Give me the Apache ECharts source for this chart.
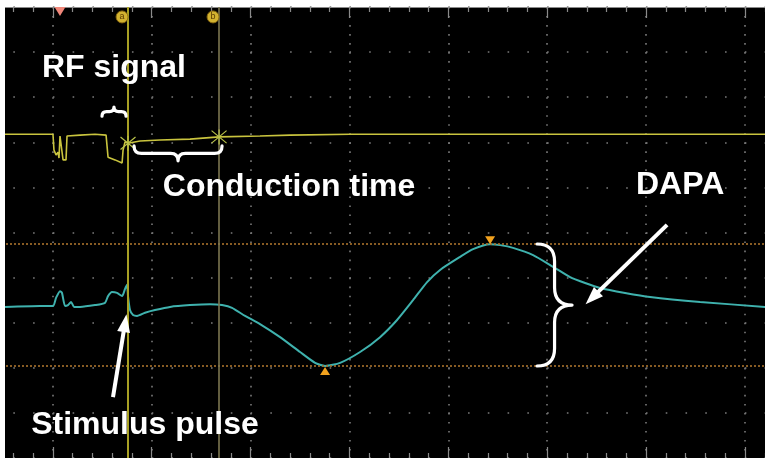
<!DOCTYPE html>
<html>
<head>
<meta charset="utf-8">
<script src="https://cdn.jsdelivr.net/npm/echarts@6/dist/echarts.min.js"></script>
<style>
  html, body { margin: 0; padding: 0; background: #fff; }
  #chart { position: absolute; left: 5px; top: 0; width: 760px; height: 458px; }
</style>
</head>
<body>
<div id="chart"></div>
<script>
// Time axis in arbitrary units (10 units per division), voltage axis in divisions.
const xRange = [0, 90];
const yRange = [0, 10];

// Channel 1 (yellow): RF signal trace
const rfTrace = [
  [5.16, 7.18], [10.01, 7.18], [10.11, 6.83], [10.32, 6.72], [10.52, 6.78], [10.62, 6.65],
  [10.72, 7.14], [10.92, 7.14], [11.03, 6.61], [11.33, 6.61], [11.43, 7.14], [12.75, 7.16],
  [14.26, 7.18], [15.38, 7.16], [15.58, 6.67], [16.29, 6.61], [17.00, 6.54], [17.10, 6.83],
  [17.30, 7.01], [17.60, 6.98], [18.81, 7.03], [20.84, 7.05], [23.87, 7.07], [26.81, 7.12],
  [30.95, 7.14], [33.99, 7.16], [40.06, 7.18], [55.23, 7.18], [82.04, 7.18]
];

// Channel 2 (cyan): action potential trace
const apTrace = [
  [5.16, 3.35], [8.70, 3.37], [10.01, 3.37], [10.32, 3.55], [10.72, 3.70], [10.92, 3.66],
  [11.23, 3.37], [11.53, 3.39], [11.84, 3.46], [12.14, 3.35], [12.75, 3.35], [14.26, 3.39],
  [15.27, 3.44], [15.58, 3.59], [15.98, 3.68], [16.49, 3.66], [17.00, 3.59], [17.30, 3.75],
  [17.50, 3.84], [17.60, 3.59], [17.80, 3.28], [18.11, 3.17], [18.51, 3.15], [19.32, 3.22],
  [20.33, 3.28], [21.85, 3.35], [23.87, 3.39], [25.90, 3.41], [27.11, 3.39], [28.12, 3.33],
  [29.44, 3.15], [30.95, 2.97], [32.98, 2.68], [35.00, 2.35], [36.52, 2.11], [37.53, 2.04],
  [39.05, 2.11], [41.07, 2.35], [43.09, 2.68], [44.81, 3.06], [46.43, 3.50], [47.85, 3.90],
  [49.16, 4.17], [51.19, 4.46], [52.50, 4.63], [54.22, 4.74], [55.23, 4.72], [56.54, 4.66],
  [58.57, 4.50], [60.59, 4.24], [62.31, 4.01], [63.83, 3.88], [65.34, 3.77], [67.87, 3.66],
  [70.40, 3.57], [75.46, 3.46], [82.04, 3.35]
];

const refLevels = [4.745, 2.04];
const cursorNames = ['a', 'b'];
const cursorTimes = [17.6, 26.81];
const cursorCrossings = [[17.6, 6.98], [26.81, 7.12]];
const cursorBadges = [[17.0, 9.78, 'a'], [26.2, 9.78, 'b']];
const triggerMarker = [[10.72, 9.90]];
const peakMarkerDown = [[54.22, 4.83]];
const peakMarkerUp = [[37.53, 1.93]];

const annotationTexts = ['RF signal', 'Conduction time', 'DAPA', 'Stimulus pulse'];
const annotationPos = [[16.18, 8.65], [33.89, 6.01], [73.44, 6.05], [19.32, 0.73]];
const arrowLines = [
  [[72.12, 5.17], [64.53, 3.55]],
  [[16.08, 1.35], [17.30, 2.99]]
];
// [startX, startY, endX, endY, tipX, tipY]
const braces = [
  [14.97, 7.58, 17.40, 7.58, 16.18, 7.78],
  [18.21, 6.92, 27.11, 6.92, 22.66, 6.59],
  [58.97, 4.745, 58.97, 2.04, 62.51, 3.39]
];

const chart = echarts.init(document.getElementById('chart'), null, { renderer: 'canvas' });
const font = '"Liberation Sans", Arial, sans-serif';

function bracePath(a, b, tip) {
  const dx = b[0] - a[0], dy = b[1] - a[1];
  const L = Math.hypot(dx, dy);
  const ux = dx / L, uy = dy / L;
  let nx = -uy, ny = ux;
  let D = (tip[0] - a[0]) * nx + (tip[1] - a[1]) * ny;
  if (D < 0) { nx = -nx; ny = -ny; D = -D; }
  const m = (tip[0] - a[0]) * ux + (tip[1] - a[1]) * uy;
  const h = D / 2;
  const r = Math.min(h, m / 2, (L - m) / 2);
  const P = (s, t) => (a[0] + ux * s + nx * t).toFixed(2) + ',' + (a[1] + uy * s + ny * t).toFixed(2);
  return 'M' + P(0, 0) + 'Q' + P(0, h) + ' ' + P(r, h) +
    'L' + P(m - r, h) + 'Q' + P(m, h) + ' ' + P(m, D) +
    'Q' + P(m, h) + ' ' + P(m + r, h) +
    'L' + P(L - r, h) + 'Q' + P(L, h) + ' ' + P(L, 0);
}

const tickAxis = (pos) => ({
  type: 'value', position: pos, min: xRange[0], max: xRange[1], interval: 10,
  axisLine: { show: true, onZero: false, lineStyle: { color: '#8a8a8a', width: 1 } },
  axisTick: { show: true, inside: true, length: 11, lineStyle: { color: '#8a8a8a', width: 1.2 } },
  minorTick: { show: true, splitNumber: 5, length: 5, lineStyle: { color: '#8a8a8a', width: 1.2 } },
  axisLabel: { show: false },
  splitLine: { show: pos === 'bottom', lineStyle: { color: '#7a7a7a', width: 1.6, type: [1.6, 7.42] } }
});

chart.setOption({
  backgroundColor: '#fff',
  animation: false,
  grid: {
    left: -51, right: -78.86, top: 7, bottom: 0, show: true, backgroundColor: '#000', borderWidth: 0,
    outerBoundsMode: 'none', containLabel: false
  },
  xAxis: [tickAxis('bottom'), tickAxis('top')],
  yAxis: {
    type: 'value', min: yRange[0], max: yRange[1], interval: 1,
    axisLine: { show: false }, axisTick: { show: false }, axisLabel: { show: false },
    splitLine: { show: true, lineStyle: { color: '#7a7a7a', width: 1.6, type: [1.6, 18.17] } }
  },
  series: [
    {
      name: 'Ch2', type: 'line', data: apTrace, showSymbol: false, smooth: 0.2, z: 3,
      lineStyle: { color: '#3fb2ae', width: 2 },
      markLine: {
        silent: true, symbol: 'none', label: { show: false },
        lineStyle: { color: '#a8722c', width: 1.6, type: [2, 2] },
        data: refLevels.map(v => ({ yAxis: v }))
      }
    },
    {
      name: 'Ch1', type: 'line', data: rfTrace, showSymbol: false, z: 4,
      lineStyle: { color: '#c9c43e', width: 1.6 },
      markLine: {
        silent: true, symbol: 'none', label: { show: false },
        data: cursorTimes.map((t, i) => ({
          xAxis: t, name: cursorNames[i],
          lineStyle: { color: i === 0 ? '#a8a024' : '#7c7650', width: i === 0 ? 2 : 1.6, type: 'solid' }
        }))
      }
    },
    {
      name: 'crossings', type: 'scatter', data: cursorCrossings, z: 5,
      symbol: 'path://M0,0L10,10M10,0L0,10M5,-1L5,11', symbolSize: 15,
      itemStyle: { color: 'rgba(0,0,0,0)', borderColor: '#b9c24a', borderWidth: 1.2, opacity: 1 }
    },
    {
      name: 'badges', type: 'scatter', data: cursorBadges, z: 6,
      symbol: 'circle', symbolSize: 12,
      itemStyle: { color: '#d2b230', borderColor: '#8a6a10', borderWidth: 1, opacity: 1 },
      label: { show: true, position: 'inside', formatter: p => p.value[2], fontSize: 9, color: '#5a3a00', fontFamily: font }
    },
    {
      name: 'trigger', type: 'scatter', data: triggerMarker, z: 6,
      symbol: 'triangle', symbolRotate: 180, symbolSize: [11, 9],
      itemStyle: { color: '#f0877a', opacity: 1 }
    },
    {
      name: 'peak', type: 'scatter', data: peakMarkerDown, z: 6,
      symbol: 'triangle', symbolRotate: 180, symbolSize: [10, 8],
      itemStyle: { color: '#f2a21e', opacity: 1 }
    },
    {
      name: 'trough', type: 'scatter', data: peakMarkerUp, z: 6,
      symbol: 'triangle', symbolSize: [10, 8],
      itemStyle: { color: '#f2a21e', opacity: 1 }
    },
    {
      name: 'braces', type: 'custom', data: braces, z: 7,
      renderItem: (params, api) => {
        const a = api.coord([api.value(0), api.value(1)]);
        const b = api.coord([api.value(2), api.value(3)]);
        const t = api.coord([api.value(4), api.value(5)]);
        return {
          type: 'path',
          shape: { pathData: bracePath(a, b, t) },
          style: { stroke: '#fff', fill: 'none', lineWidth: 3.2, lineCap: 'round', lineJoin: 'round' }
        };
      }
    },
    {
      name: 'annotations', type: 'scatter', z: 8, symbolSize: 0,
      itemStyle: { opacity: 1 },
      data: annotationTexts.map((s, i) => ({ name: s, value: annotationPos[i] })),
      label: {
        show: true, position: 'inside', formatter: p => p.name,
        color: '#fff', fontSize: 32, fontWeight: 'bold', fontFamily: font
      },
      markLine: {
        silent: true, symbol: ['none', 'triangle'], symbolSize: [13, 18],
        label: { show: false },
        lineStyle: { color: '#fff', width: 4, type: 'solid' },
        data: arrowLines.map(l => [{ coord: l[0] }, { coord: l[1] }])
      }
    }
  ]
});
</script>
</body>
</html>
